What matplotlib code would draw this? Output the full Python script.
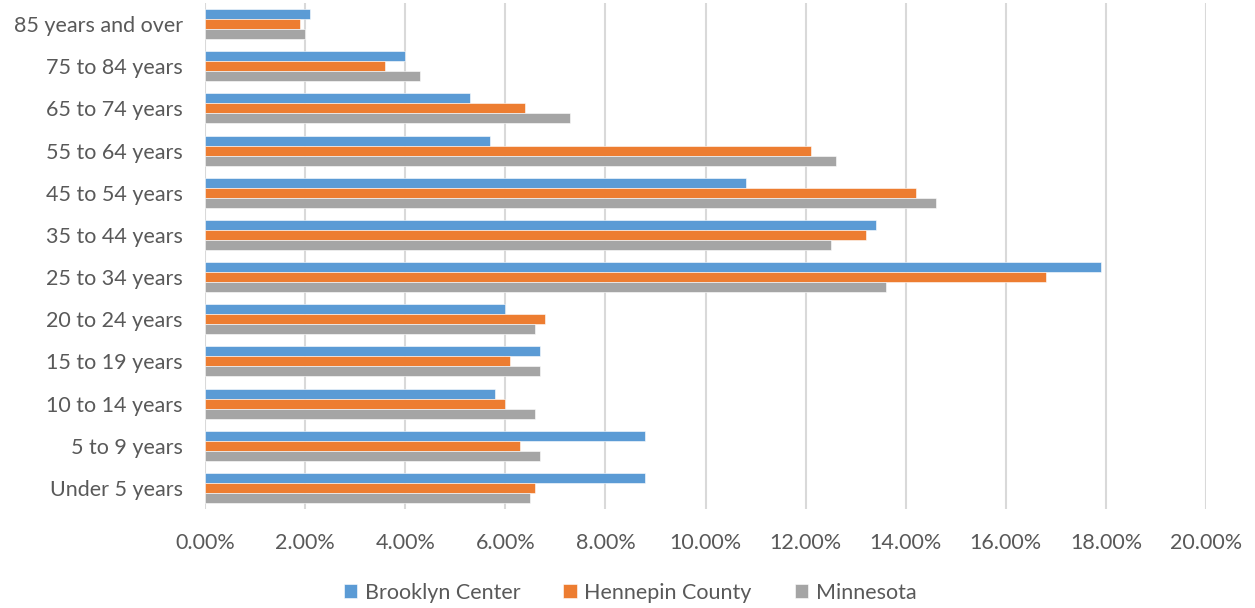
import matplotlib
matplotlib.use("Agg")
import matplotlib.pyplot as plt
import numpy as np
from matplotlib.ticker import FuncFormatter, MultipleLocator

categories = ["Under 5 years", "5 to 9 years", "10 to 14 years", "15 to 19 years",
              "20 to 24 years", "25 to 34 years", "35 to 44 years", "45 to 54 years",
              "55 to 64 years", "65 to 74 years", "75 to 84 years", "85 years and over"]
brooklyn_center = [8.8, 8.8, 5.8, 6.7, 6.0, 17.9, 13.4, 10.8, 5.7, 5.3, 4.0, 2.1]
hennepin_county = [6.6, 6.3, 6.0, 6.1, 6.8, 16.8, 13.2, 14.2, 12.1, 6.4, 3.6, 1.9]
minnesota = [6.5, 6.7, 6.6, 6.7, 6.6, 13.6, 12.5, 14.6, 12.6, 7.3, 4.3, 2.0]
series_names = ["Brooklyn Center", "Hennepin County", "Minnesota"]
colors = ["#5b9bd5", "#ed7d31", "#a5a5a5"]

plt.rcParams['font.family'] = ['Lato', 'DejaVu Sans']

fig = plt.figure(figsize=(12.55, 6.08), dpi=100)
ax = fig.add_axes([205/1255, 1 - 509/608, 1001/1255, 506/608])

y = np.arange(len(categories))
h = 0.237
data = [np.array(brooklyn_center) / 100, np.array(hennepin_county) / 100, np.array(minnesota) / 100]
offsets = [h, 0, -h]
for vals, off, c, name in zip(data, offsets, colors, series_names):
    ax.barh(y + off, vals, height=h, color=c, label=name, edgecolor='white', linewidth=0.4, zorder=3)

ax.set_xlim(0, 0.20)
ax.set_ylim(-0.5, len(categories) - 0.5)
ax.xaxis.set_major_locator(MultipleLocator(0.02))
ax.xaxis.set_major_formatter(FuncFormatter(lambda v, p: f"{v*100:.2f}%"))
ax.set_yticks(y)
ax.set_yticklabels(categories)
ax.grid(axis='x', color='#d9d9d9', linewidth=1.5, zorder=0)
ax.set_axisbelow(True)
for s in ax.spines.values():
    s.set_visible(False)
ax.tick_params(axis='both', length=0, colors='#595959', labelsize=15.5)
ax.tick_params(axis='x', pad=17)
ax.tick_params(axis='y', pad=16)

fig.legend(*ax.get_legend_handles_labels(), loc='center', bbox_to_anchor=(630/1255, 1 - 593/608),
           ncol=3, frameon=False, fontsize=15.5, handlelength=0.62, handleheight=0.62,
           handletextpad=0.35, columnspacing=2.0, labelcolor='#595959')

fig.savefig("out.png", dpi=100)
